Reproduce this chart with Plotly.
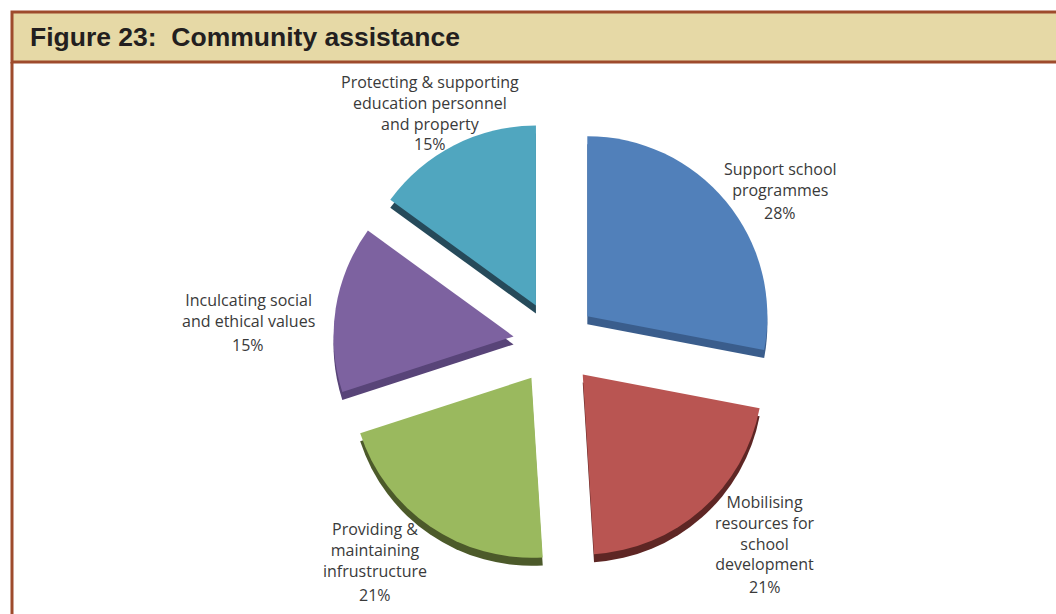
import plotly.graph_objects as go

# Community assistance: share of responses per category (%)
categories = [
    "Support school programmes",
    "Mobilising resources for school development",
    "Providing & maintaining infrustructure",
    "Inculcating social and ethical values",
    "Protecting & supporting education personnel and property",
]
shares = [28, 21, 21, 15, 15]

# How each category label wraps on the chart
label_lines = [
    ["Support school", "programmes"],
    ["Mobilising", "resources for", "school", "development"],
    ["Providing &", "maintaining", "infrustructure"],
    ["Inculcating social", "and ethical values"],
    ["Protecting & supporting", "education personnel", "and property"],
]

top_colors = ["#5180BA", "#B95552", "#9AB95E", "#7D62A0", "#50A6BF"]
side_colors = ["#3A5D8C", "#5E2624", "#4C5A2A", "#584478", "#264A5A"]

W, H = 1056, 614


def fx(px):
    return px / W


def fy(py):
    return 1 - py / H


# Pie placement in pixels (left, right, top, bottom) and 3D edge depth
PIE_L, PIE_R, PIE_T, PIE_B = 333, 777, 121, 565
DEPTH = 8
PULL = 0.233

# Label placement in pixels: centre x, centre y of the name block, centre y of the percentage
label_pos = [
    (780, 179, 213),
    (765, 533, 587),
    (375, 550, 595),
    (248, 310, 345),
    (430, 103, 144),
]

fig = go.Figure()

# Darker copy shifted down gives the slices a visible side edge
fig.add_trace(go.Pie(
    labels=categories, values=shares, sort=False, direction="clockwise",
    rotation=0, pull=[PULL] * len(shares),
    marker=dict(colors=side_colors, line=dict(width=0)),
    textinfo="none", hoverinfo="skip", showlegend=False,
    domain=dict(x=[fx(PIE_L), fx(PIE_R)], y=[fy(PIE_B + DEPTH), fy(PIE_T + DEPTH)]),
))
fig.add_trace(go.Pie(
    labels=categories, values=shares, sort=False, direction="clockwise",
    rotation=0, pull=[PULL] * len(shares),
    marker=dict(colors=top_colors, line=dict(width=0)),
    textinfo="none", hoverinfo="label+percent", showlegend=False,
    domain=dict(x=[fx(PIE_L), fx(PIE_R)], y=[fy(PIE_B), fy(PIE_T)]),
))

label_font = dict(family="Open Sans, Lato, sans-serif", size=16, color="#3A3A3A")
annotations = []
for lines, value, (cx, name_y, pct_y) in zip(label_lines, shares, label_pos):
    annotations.append(dict(
        text="<br>".join(lines), x=fx(cx), y=fy(name_y), xref="paper", yref="paper",
        xanchor="center", yanchor="middle", align="center", showarrow=False, font=label_font,
    ))
    annotations.append(dict(
        text=f"{value}%", x=fx(cx), y=fy(pct_y), xref="paper", yref="paper",
        xanchor="center", yanchor="middle", showarrow=False, font=label_font,
    ))

# Figure heading inside the banner
annotations.append(dict(
    text="<b>Figure 23:\u00a0\u00a0Community assistance</b>",
    x=fx(28), y=fy(37), xref="paper", yref="paper", xanchor="left", yanchor="middle",
    showarrow=False, font=dict(family="Liberation Sans, Arial, sans-serif", size=26.5, color="#231F20"),
))

BORDER = "#9E4B2C"
shapes = [
    dict(type="rect", xref="paper", yref="paper", x0=fx(12), x1=fx(1070), y0=fy(62), y1=fy(12),
         fillcolor="#E6D9A6", line=dict(color=BORDER, width=3), layer="below"),
    dict(type="line", xref="paper", yref="paper", x0=fx(12), x1=fx(12), y0=fy(62), y1=fy(630),
         line=dict(color=BORDER, width=3)),
]

fig.update_layout(
    width=W, height=H, margin=dict(l=0, r=0, t=0, b=0),
    paper_bgcolor="white", plot_bgcolor="white",
    annotations=annotations, shapes=shapes,
)

fig.write_html("out.html")
